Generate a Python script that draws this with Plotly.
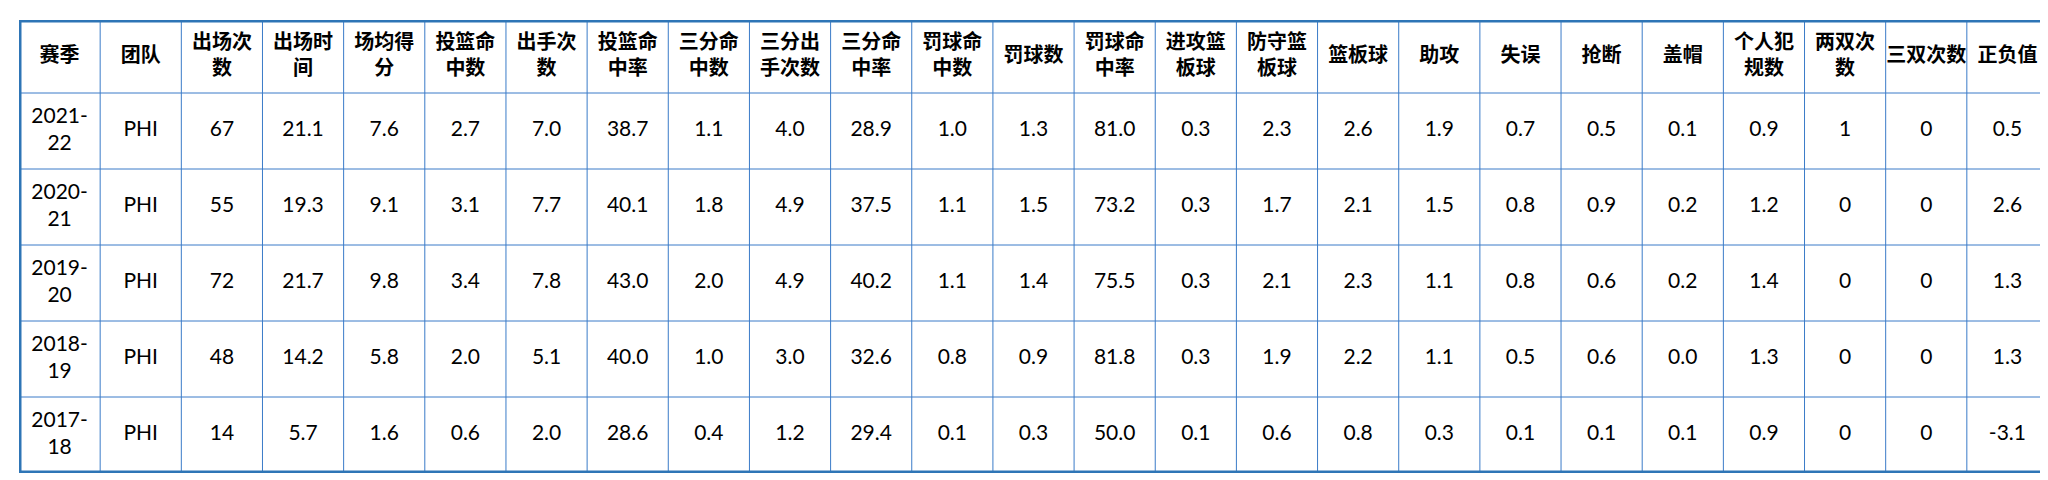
import plotly.graph_objects as go

# Column headers (line breaks as in the original table).
headers = ["赛季", "团队", "出场次<br>数", "出场时<br>间", "场均得<br>分", "投篮命<br>中数",
           "出手次<br>数", "投篮命<br>中率", "三分命<br>中数", "三分出<br>手次数", "三分命<br>中率",
           "罚球命<br>中数", "罚球数", "罚球命<br>中率", "进攻篮<br>板球", "防守篮<br>板球",
           "篮板球", "助攻", "失误", "抢断", "盖帽", "个人犯<br>规数", "两双次<br>数",
           "三双次数", "正负值"]

seasons = ["2021-<br>22", "2020-<br>21", "2019-<br>20", "2018-<br>19", "2017-<br>18"]
teams = ["PHI", "PHI", "PHI", "PHI", "PHI"]
games = ["67", "55", "72", "48", "14"]
minutes = ["21.1", "19.3", "21.7", "14.2", "5.7"]
points = ["7.6", "9.1", "9.8", "5.8", "1.6"]
fgm = ["2.7", "3.1", "3.4", "2.0", "0.6"]
fga = ["7.0", "7.7", "7.8", "5.1", "2.0"]
fg_pct = ["38.7", "40.1", "43.0", "40.0", "28.6"]
tpm = ["1.1", "1.8", "2.0", "1.0", "0.4"]
tpa = ["4.0", "4.9", "4.9", "3.0", "1.2"]
tp_pct = ["28.9", "37.5", "40.2", "32.6", "29.4"]
ftm = ["1.0", "1.1", "1.1", "0.8", "0.1"]
fta = ["1.3", "1.5", "1.4", "0.9", "0.3"]
ft_pct = ["81.0", "73.2", "75.5", "81.8", "50.0"]
oreb = ["0.3", "0.3", "0.3", "0.3", "0.1"]
dreb = ["2.3", "1.7", "2.1", "1.9", "0.6"]
reb = ["2.6", "2.1", "2.3", "2.2", "0.8"]
ast = ["1.9", "1.5", "1.1", "1.1", "0.3"]
tov = ["0.7", "0.8", "0.8", "0.5", "0.1"]
stl = ["0.5", "0.9", "0.6", "0.6", "0.1"]
blk = ["0.1", "0.2", "0.2", "0.0", "0.1"]
fouls = ["0.9", "1.2", "1.4", "1.3", "0.9"]
double_doubles = ["1", "0", "0", "0", "0"]
triple_doubles = ["0", "0", "0", "0", "0"]
plus_minus = ["0.5", "2.6", "1.3", "1.3", "-3.1"]

columns = [seasons, teams, games, minutes, points, fgm, fga, fg_pct, tpm, tpa, tp_pct,
           ftm, fta, ft_pct, oreb, dreb, reb, ast, tov, stl, blk, fouls,
           double_doubles, triple_doubles, plus_minus]

line_color = "#3a7bc8"
header_h = 73
row_h = 76
n_cols = len(headers)
n_rows = len(seasons)

# Row boundaries in pixel-like units (top = 0).
bounds = [0, header_h] + [header_h + row_h * (i + 1) for i in range(n_rows)]
total_h = bounds[-1]

fig = go.Figure()

# Header text.
fig.add_trace(go.Scatter(
    x=list(range(n_cols)), y=[header_h / 2] * n_cols,
    mode="text", text=["<b>" + h + "</b>" for h in headers],
    textposition="middle center",
    textfont=dict(family="Noto Sans CJK SC", size=20, color="black"),
    hoverinfo="skip", showlegend=False,
))

# Body text.
xs, ys, texts = [], [], []
for c, col in enumerate(columns):
    for r, val in enumerate(col):
        xs.append(c)
        ys.append((bounds[r + 1] + bounds[r + 2]) / 2)
        texts.append(val)
fig.add_trace(go.Scatter(
    x=xs, y=ys, mode="text", text=texts, textposition="middle center",
    textfont=dict(family="Lato, Noto Sans CJK SC", size=21, color="black"),
    hoverinfo="skip", showlegend=False,
))

# Grid lines.
for c in range(1, n_cols):
    fig.add_shape(type="line", x0=c - 0.5, x1=c - 0.5, y0=0, y1=total_h,
                  line=dict(color=line_color, width=1))
for b in bounds[1:-1]:
    fig.add_shape(type="line", x0=-0.5, x1=n_cols - 0.5, y0=b, y1=b,
                  line=dict(color=line_color, width=1))

# Thick outer frame.
fig.add_shape(type="rect", x0=-0.5, x1=n_cols - 0.5, y0=0, y1=total_h,
              line=dict(color="#2e75b6", width=5))

fig.update_xaxes(range=[-0.5, n_cols - 0.5], visible=False)
fig.update_yaxes(range=[total_h, 0], visible=False)

fig.update_layout(
    width=2048, height=480,
    margin=dict(l=11, r=8, t=12, b=480 - 12 - total_h),
    paper_bgcolor="white", plot_bgcolor="white",
)

fig.write_html("out.html")
